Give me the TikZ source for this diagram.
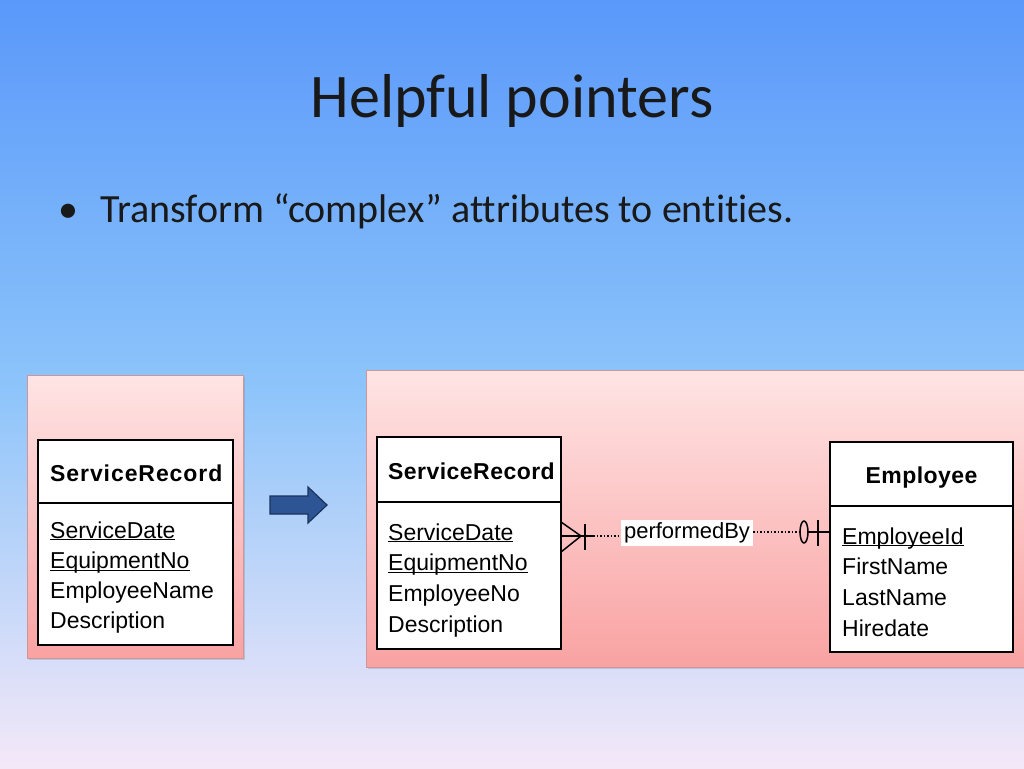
\documentclass[tikz,border=0pt]{standalone}
\usepackage{fontspec}
\setmainfont{Carlito}[Ligatures=CommonOff]
\newfontfamily\erfont{Liberation Sans}
\usetikzlibrary{calc,shadows}

\definecolor{skytop}{RGB}{90,152,250}
\definecolor{skymid}{RGB}{140,196,250}
\definecolor{skybot}{RGB}{244,232,248}
\definecolor{rosetop}{RGB}{255,228,228}
\definecolor{rosebot}{RGB}{249,162,162}
\definecolor{roseline}{RGB}{205,150,155}
\definecolor{arrowblue}{RGB}{45,85,150}

\newcommand\keyattr[1]{\underline{\smash{#1}}}

\tikzset{
	panel/.style={draw=roseline, line width=0.8pt, top color=rosetop, bottom color=rosebot,
		drop shadow={shadow xshift=2pt, shadow yshift=-2pt, opacity=0.3}},
	entbox/.style={draw=black, line width=2pt, fill=white, anchor=north west, inner sep=0pt, outer sep=0pt},
	enttitle/.style={font=\erfont\fontsize{23}{27}\selectfont\bfseries\addfontfeature{LetterSpace=2}, inner sep=0pt},
	attr/.style={font=\erfont\fontsize{23}{27}\selectfont, anchor=base west, inner sep=0pt},
	rel/.style={line width=1.5pt},
	reldot/.style={line width=1.5pt, dotted},
}

\begin{document}
\begin{tikzpicture}[x=1pt, y=-1pt]
	\useasboundingbox (0,0) rectangle (1024,768);
	\clip (0,0) rectangle (1024,768);
	% slide background
	\fill[top color=skytop, bottom color=skybot, middle color=skymid] (0,0) rectangle (1024,768);

	% title and bullet
	\node[anchor=base, inner sep=0pt, font=\fontsize{62}{70}\selectfont, text=black!90] (title) at (512,117) {Helpful pointers};
	\node[anchor=base west, inner sep=0pt, font=\fontsize{40}{48}\selectfont, text=black!90] (dot) at (58,222) {\textbullet};
	\node[anchor=base west, inner sep=0pt, font=\fontsize{40}{48}\selectfont, text=black!90] (point) at (100,222) {Transform “complex” attributes to entities.};

	% panels
	\draw[panel] (27,375) rectangle (243,658);
	\draw[panel] (366,370) rectangle (1040,667);

	% before
	\node[entbox, minimum width=195pt, minimum height=63pt] (oldhead) at (38,440) {};
	\node[entbox, minimum width=195pt, minimum height=142pt] (oldbody) at (oldhead.south west) {};
	\node[enttitle, anchor=base west] (oldname) at ($(oldhead.north west)+(12,41)$) {\addfontfeature{LetterSpace=4}ServiceRecord};
	\foreach \t [count=\i] in {\keyattr{ServiceDate}, \keyattr{EquipmentNo}, EmployeeName, Description}
		\node[attr] (oldattr\i) at ($(oldbody.north west)+(12,35+30.3*\i-30.3)$) {\t};

	% arrow
	\draw[fill=arrowblue, draw=arrowblue!60!black, line width=1.2pt] (270,496) -- (308,496) -- (308,487) -- (327,505) -- (308,523) -- (308,514) -- (270,514) -- cycle;

	% after: ServiceRecord
	\node[entbox, minimum width=184pt, minimum height=65pt] (srhead) at (377,437) {};
	\node[entbox, minimum width=184pt, minimum height=147pt] (srbody) at (srhead.south west) {};
	\node[enttitle, anchor=base west] (srname) at ($(srhead.north west)+(11,42)$) {ServiceRecord};
	\foreach \t [count=\i] in {\keyattr{ServiceDate}, \keyattr{EquipmentNo}, EmployeeNo, Description}
		\node[attr] (srattr\i) at ($(srbody.north west)+(11,38+30.7*\i-30.7)$) {\t};

	% after: Employee
	\node[entbox, minimum width=183pt, minimum height=64pt] (emphead) at (830,442) {};
	\node[entbox, minimum width=183pt, minimum height=146pt] (empbody) at (emphead.south west) {};
	\node[enttitle, anchor=base] (empname) at ($(emphead.north)+(0,41)$) {Employee};
	\foreach \t [count=\i] in {\keyattr{EmployeeId}, FirstName, LastName, Hiredate}
		\node[attr] (empattr\i) at ($(empbody.north west)+(12,38+30.7*\i-30.7)$) {\t};

	% relationship
	\coordinate (manyend) at ($(srbody.north east)+(0,34)$);
	\coordinate (oneend) at ($(empbody.north west)+(0,26)$);
	\node[fill=white, inner sep=3pt, font=\erfont\fontsize{22}{26}\selectfont] (relname) at (687,533) {performedBy};
	\draw[rel] ($(manyend)+(0,-14)$) -- ($(manyend)+(20,0)$) -- ($(manyend)+(0,16)$);
	\draw[rel] (manyend) -- ++(32,0) coordinate (manydot);
	\draw[rel] ($(manyend)+(24,-12)$) -- ++(0,26);
	\draw[reldot] (manydot) -- (relname.west |- manydot);
	\draw[reldot] (relname.east |- oneend) -- ($(oneend)+(-30,0)$);
	\draw[rel] ($(oneend)+(-26,0)$) ellipse [x radius=4, y radius=11];
	\draw[rel] ($(oneend)+(-22,0)$) -- (oneend);
	\draw[rel] ($(oneend)+(-12,-12)$) -- ++(0,26);
\end{tikzpicture}
\end{document}
